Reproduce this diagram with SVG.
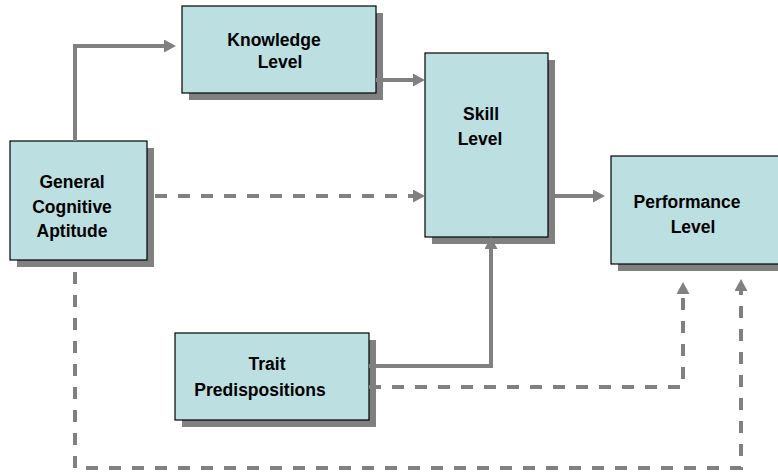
<svg xmlns="http://www.w3.org/2000/svg" width="778" height="472" viewBox="0 0 778 472">
  <style>
    .shadow { fill: #808080; }
    .box { fill: #bcdfe2; stroke: #000; stroke-width: 1.2; }
    .label { font-family: "Liberation Sans", Arial, sans-serif; font-weight: bold; font-size: 17.5px; fill: #000; text-anchor: middle; }
    .link { fill: none; stroke: #808080; stroke-width: 4; }
    .dashed { stroke-dasharray: 12 11; }
  </style>
  <defs>
    <marker id="arrow" markerUnits="userSpaceOnUse" markerWidth="12" markerHeight="13" refX="6" refY="6.5" orient="auto">
      <path d="M0,0 L12,6.5 L0,13 z" fill="#808080"/>
    </marker>
  </defs>
  <rect width="778" height="472" fill="#fff"/>

  <g id="knowledge">
    <rect class="shadow" x="189" y="13" width="194" height="87"/>
    <rect class="box" x="182" y="6" width="194" height="87"/>
    <text class="label" x="274" y="46">Knowledge</text>
    <text class="label" x="280" y="68">Level</text>
  </g>

  <g id="general">
    <rect class="shadow" x="17" y="148" width="137" height="119"/>
    <rect class="box" x="10" y="141" width="137" height="119"/>
    <text class="label" x="72" y="188">General</text>
    <text class="label" x="72" y="213">Cognitive</text>
    <text class="label" x="72" y="237">Aptitude</text>
  </g>

  <g id="skill">
    <rect class="shadow" x="432" y="60" width="123" height="184"/>
    <rect class="box" x="425" y="53" width="123" height="184"/>
    <text class="label" x="481" y="120">Skill</text>
    <text class="label" x="480" y="145">Level</text>
  </g>

  <g id="performance">
    <rect class="shadow" x="618" y="163" width="180" height="108"/>
    <rect class="box" x="611" y="156" width="180" height="108"/>
    <text class="label" x="687" y="208">Performance</text>
    <text class="label" x="693" y="233">Level</text>
  </g>

  <g id="trait">
    <rect class="shadow" x="182" y="340" width="194" height="87"/>
    <rect class="box" x="175" y="333" width="194" height="87"/>
    <text class="label" x="267" y="370">Trait</text>
    <text class="label" x="260" y="396">Predispositions</text>
  </g>

  <!-- connectors sit above the boxes so they cross the drop shadows -->
  <g id="connectors">
    <path class="link" d="M75 141 V46 H170" marker-end="url(#arrow)"/>
    <path class="link" d="M376 80 H419" marker-end="url(#arrow)"/>
    <path class="link dashed" d="M155 196 H419" marker-end="url(#arrow)"/>
    <path class="link" d="M555 196 H599" marker-end="url(#arrow)"/>
    <path class="link" d="M369 366 H491 V243" marker-end="url(#arrow)"/>
    <path class="link dashed" d="M369 387 H683 V288" marker-end="url(#arrow)"/>
    <path class="link dashed" d="M75 272 V468 H741 V285" marker-end="url(#arrow)"/>
  </g>
</svg>
